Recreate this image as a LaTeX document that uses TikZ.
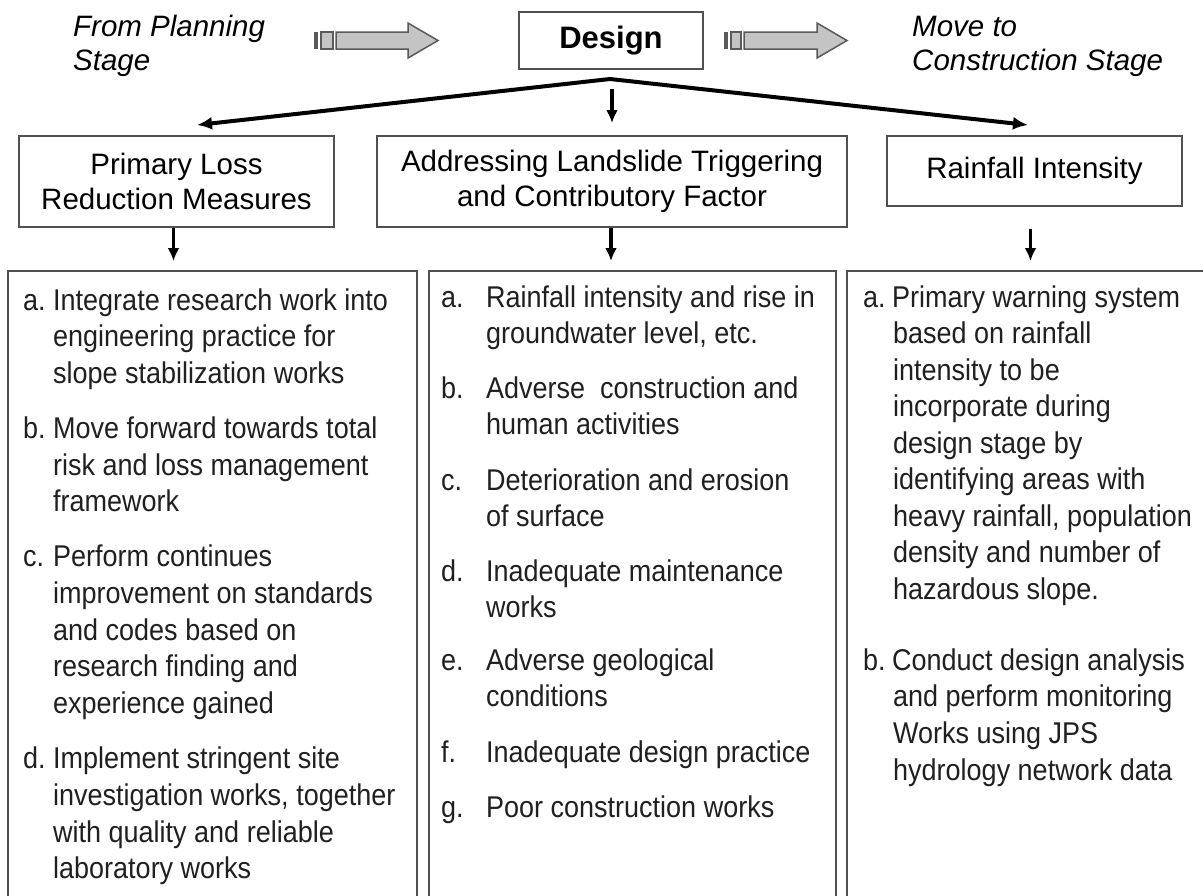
\documentclass[tikz,border=0pt]{standalone}
\usepackage{fontspec}
\setmainfont{Liberation Sans}
\newfontfamily\bodyfont[FakeStretch=0.9]{Liberation Sans}
\usetikzlibrary{arrows.meta}
\definecolor{boxgray}{HTML}{505050}
\definecolor{arrowfill}{HTML}{C4C4C4}
\definecolor{arrowline}{HTML}{5A5A5A}
\definecolor{bodyink}{HTML}{202020}
\tikzset{
  hdr/.style={draw=boxgray, line width=2pt, align=center, inner sep=0pt,
    font=\fontsize{29.5}{35}\selectfont},
  lowbox/.style={draw=boxgray, line width=2pt, inner sep=0pt},
  stagetext/.style={inner sep=0pt, anchor=base west, font=\fontsize{29.5}{35}\selectfont\itshape},
  bodytext/.style={inner sep=0pt, anchor=base west, text=bodyink,
    font=\bodyfont\fontsize{30}{36.7}\selectfont},
  blockarrow/.style={fill=arrowfill, draw=arrowline, line width=1.5pt, line join=miter},
  slantarrow/.style={line width=4pt, -{Latex[length=15pt,width=13pt]}},
  downarrow/.style={line width=3.2pt, -{Latex[length=13pt,width=12pt]}}
}
\newcommand\bline[4]{\node[bodytext] (#1) at (#2,#3) {#4};}
\begin{document}
\begin{tikzpicture}[x=1pt,y=-1pt]
\clip (0,0) rectangle (1203,895);
\fill[white] (0,0) rectangle (1203,895);

% stage texts
\node[stagetext] (from1) at (73,36) {From Planning};
\node[stagetext] (from2) at (73,70) {Stage};
\node[stagetext] (move1) at (912,36) {Move to};
\node[stagetext] (move2) at (912,70) {Construction Stage};

% block arrows
\fill[arrowline] (314,32) rectangle (318,49);
\draw[blockarrow] (321,32) rectangle (333,49);
\draw[blockarrow] (336,32) -- (408,32) -- (408,23) -- (438,40.5) -- (408,58) -- (408,49) -- (336,49) -- cycle;
\fill[arrowline] (724,32) rectangle (728,49);
\draw[blockarrow] (731,32) rectangle (741,49);
\draw[blockarrow] (744,32) -- (817,32) -- (817,23) -- (847,40.5) -- (817,58) -- (817,49) -- (744,49) -- cycle;

% design box
\node[draw=boxgray, line width=2pt, inner sep=0pt, minimum width=184pt, minimum height=57pt,
  font=\fontsize{31}{36}\selectfont\bfseries] (design) at (611,40.5) {Design};

% header boxes
\node[hdr, minimum width=315pt, minimum height=91pt] (hA) at (176.5,181.5) {Primary Loss\\Reduction Measures};
\node[hdr, minimum width=470pt, minimum height=91pt] (hB) at (612,181.5) {Addressing Landslide Triggering\\and Contributory Factor};
\node[hdr, minimum width=295pt, minimum height=70pt] (hC) at (1034.5,171) {Rainfall Intensity};

% lower boxes
\node[lowbox, minimum width=409pt, minimum height=640pt] (L1) at (212.5,591) {};
\node[lowbox, minimum width=407pt, minimum height=640pt] (L2) at (632.5,591) {};
\node[lowbox, minimum width=400pt, minimum height=640pt] (L3) at (1047,591) {};

% connectors from design
\coordinate (apex) at (610,79);
\coordinate (ltip) at (197,125);
\coordinate (rtip) at (1028,125);
\draw[slantarrow] (apex) -- (ltip);
\draw[slantarrow] (apex) -- (rtip);
\draw[downarrow, shorten <=19pt, shorten >=12pt] (design.south -| hB.north) -- (hB.north);

% header to lower boxes
\draw[downarrow, shorten >=9pt] ([xshift=-3pt]hA.south) -- ([xshift=-3pt]hA.south |- L1.north);
\draw[downarrow, shorten >=9pt] ([xshift=-1pt]hB.south) -- ([xshift=-1pt]hB.south |- L2.north);
\draw[downarrow, shorten <=22pt, shorten >=9pt] ([xshift=-4pt]hC.south) -- ([xshift=-4pt]hC.south |- L3.north);

% box 1 text
\bline{a1l}{23}{310}{a.}
\bline{a1a}{53}{310}{Integrate research work into}
\bline{a1b}{53}{346.7}{engineering practice for}
\bline{a1c}{53}{383.4}{slope stabilization works}
\bline{b1l}{23}{438.4}{b.}
\bline{b1a}{53}{438.4}{Move forward towards total}
\bline{b1b}{53}{475.1}{risk and loss management}
\bline{b1c}{53}{511.8}{framework}
\bline{c1l}{23}{566.8}{c.}
\bline{c1a}{53}{566.8}{Perform continues}
\bline{c1b}{53}{603.5}{improvement on standards}
\bline{c1c}{53}{640.2}{and codes based on}
\bline{c1d}{53}{676.9}{research finding and}
\bline{c1e}{53}{713.6}{experience gained}
\bline{d1l}{23}{768.6}{d.}
\bline{d1a}{53}{768.6}{Implement stringent site}
\bline{d1b}{53}{805.3}{investigation works, together}
\bline{d1c}{53}{842}{with quality and reliable}
\bline{d1d}{53}{878.7}{laboratory works}

% box 2 text
\bline{a2l}{441}{307}{a.}
\bline{a2a}{486}{307}{Rainfall intensity and rise in}
\bline{a2b}{486}{343.5}{groundwater level, etc.}
\bline{b2l}{441}{398}{b.}
\bline{b2a}{486}{398}{Adverse\ \ construction and}
\bline{b2b}{486}{434.5}{human activities}
\bline{c2l}{441}{490}{c.}
\bline{c2a}{486}{490}{Deterioration and erosion}
\bline{c2b}{486}{526.5}{of surface}
\bline{d2l}{441}{581}{d.}
\bline{d2a}{486}{581}{Inadequate maintenance}
\bline{d2b}{486}{617.5}{works}
\bline{e2l}{441}{670}{e.}
\bline{e2a}{486}{670}{Adverse geological}
\bline{e2b}{486}{706.5}{conditions}
\bline{f2l}{441}{762}{f.}
\bline{f2a}{486}{762}{Inadequate design practice}
\bline{g2l}{441}{817}{g.}
\bline{g2a}{486}{817}{Poor construction works}

% box 3 text
\bline{a3l}{863}{307}{a.}
\bline{a3a}{892}{307}{Primary warning system}
\bline{a3b}{893}{343.5}{based on rainfall}
\bline{a3c}{893}{380}{intensity to be}
\bline{a3d}{893}{416.5}{incorporate during}
\bline{a3e}{893}{453}{design stage by}
\bline{a3f}{893}{489.5}{identifying areas with}
\bline{a3g}{893}{526}{heavy rainfall, population}
\bline{a3h}{893}{562.5}{density and number of}
\bline{a3i}{893}{599}{hazardous slope.}
\bline{b3l}{863}{670}{b.}
\bline{b3a}{892}{670}{Conduct design analysis}
\bline{b3b}{893}{706.7}{and perform monitoring}
\bline{b3c}{893}{743.4}{Works using JPS}
\bline{b3d}{893}{780.1}{hydrology network data}
\end{tikzpicture}
\end{document}
